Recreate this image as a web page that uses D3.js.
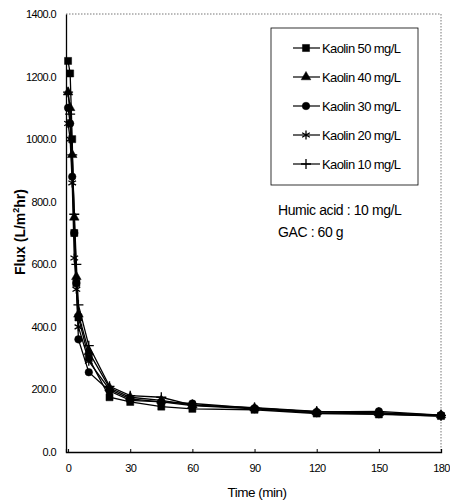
<!DOCTYPE html>
<html>
<head>
<meta charset="utf-8">
<script src="https://cdn.jsdelivr.net/npm/d3@7"></script>
<style>
  body { margin: 0; background: #fff; }
  text { font-family: "Liberation Sans", Arial, sans-serif; fill: #000; }
</style>
</head>
<body>
<div class="container"></div>
<script>
// data
var times = [0, 1, 2, 3, 4, 5, 10, 20, 30, 45, 60, 90, 120, 150, 180];
var seriesNames = ["Kaolin 50 mg/L", "Kaolin 40 mg/L", "Kaolin 30 mg/L", "Kaolin 20 mg/L", "Kaolin 10 mg/L"];
var kaolin50 = [1250, 1210, 1000, 700, 540, 430, 300, 175, 160, 145, 138, 135, 123, 120, 115];
var kaolin40 = [1150, 1100, 950, 750, 560, 440, 320, 205, 175, 165, 150, 140, 128, 125, 118];
var kaolin30 = [1100, 1050, 880, 700, 540, 360, 255, 195, 165, 160, 155, 140, 128, 130, 118];
var kaolin20 = [1050, 1000, 860, 620, 520, 400, 290, 200, 170, 160, 148, 138, 125, 122, 115];
var kaolin10 = [1150, 1080, 950, 760, 600, 470, 340, 210, 180, 175, 150, 142, 130, 125, 117];
var xTicks = [0, 30, 60, 90, 120, 150, 180];
var yTicks = [0, 200, 400, 600, 800, 1000, 1200, 1400];

var seriesValues = [kaolin50, kaolin40, kaolin30, kaolin20, kaolin10];
var symbols = [d3.symbolSquare, d3.symbolTriangle, d3.symbolCircle, d3.symbolAsterisk, d3.symbolCross];

// svg container
var svgWidth = 450, svgHeight = 502;
var margin = { top: 14, right: 9, bottom: 50, left: 66 };
var width = svgWidth - margin.left - margin.right;
var height = svgHeight - margin.top - margin.bottom;

var svg = d3.select(".container").append("svg")
  .attr("width", svgWidth)
  .attr("height", svgHeight);

var chartGroup = svg.append("g")
  .attr("transform", `translate(${margin.left}, ${margin.top})`);

// scales
var x = d3.scaleLinear().domain([-1, 180]).range([0, width]);
var y = d3.scaleLinear().domain([0, 1400]).range([height, 0]);

// top and right dotted frame
chartGroup.append("path")
  .attr("d", `M0,0H${width}V${height}`)
  .attr("fill", "none")
  .attr("stroke", "#777")
  .attr("stroke-width", 1)
  .attr("stroke-dasharray", "1.5,1.5");

// axes
var bottomAxis = d3.axisBottom(x).tickValues(xTicks).tickSize(-3).tickPadding(12).tickFormat(d3.format("d"));
var leftAxis = d3.axisLeft(y).tickValues(yTicks).tickSize(0).tickPadding(10).tickFormat(d3.format(".1f"));

var gx = chartGroup.append("g")
  .attr("transform", `translate(0, ${height})`)
  .call(bottomAxis);
var gy = chartGroup.append("g").call(leftAxis);

[gx, gy].forEach(function(g) {
  g.select(".domain").attr("stroke", "#000").attr("stroke-width", 1.3);
  g.selectAll(".tick line").attr("stroke", "#000");
  g.selectAll(".tick text")
    .attr("font-family", "Liberation Sans Narrow, Liberation Sans, sans-serif")
    .attr("font-size", 11)
    .attr("letter-spacing", -0.6);
});

// lines + markers
var line = d3.line()
  .x((d, i) => x(times[i]))
  .y(d => y(d));

seriesValues.forEach(function(vals, s) {
  chartGroup.append("path")
    .datum(vals)
    .attr("d", line)
    .attr("fill", "none")
    .attr("stroke", "#000")
    .attr("stroke-width", 1.3);

  chartGroup.selectAll(".m" + s)
    .data(vals)
    .enter()
    .append("path")
    .attr("class", "m" + s)
    .attr("transform", (d, i) => `translate(${x(times[i])}, ${y(d)})`)
    .attr("d", markerPath(s))
    .attr("fill", s < 3 ? "#000" : "none")
    .attr("stroke", "#000")
    .attr("stroke-width", s < 3 ? 0.5 : 1.3);
});

function markerPath(s) {
  var sizes = [50, 40, 45, 55, 70];
  if (s === 4) return "M-5,0H5M0,-5V5";
  return d3.symbol().type(symbols[s]).size(sizes[s])();
}

// legend
var legend = svg.append("g");
legend.append("rect")
  .attr("x", 271).attr("y", 28)
  .attr("width", 147).attr("height", 157)
  .attr("fill", "#fff")
  .attr("stroke", "#000")
  .attr("stroke-width", 0.8);

seriesNames.forEach(function(name, s) {
  var ly = 48 + s * 29;
  legend.append("line")
    .attr("x1", 293).attr("x2", 320)
    .attr("y1", ly).attr("y2", ly)
    .attr("stroke", "#000")
    .attr("stroke-width", 1.2);
  legend.append("path")
    .attr("transform", `translate(306, ${ly})`)
    .attr("d", markerPath(s))
    .attr("fill", s < 3 ? "#000" : "none")
    .attr("stroke", "#000")
    .attr("stroke-width", s < 3 ? 0.5 : 1.3);
  legend.append("text")
    .attr("x", 322).attr("y", ly + 4.5)
    .attr("font-size", 13)
    .attr("letter-spacing", -0.6)
    .text(name);
});

// annotation
svg.append("text")
  .attr("x", 278).attr("y", 215)
  .attr("font-size", 14)
  .attr("letter-spacing", -0.4)
  .text("Humic acid : 10 mg/L");
svg.append("text")
  .attr("x", 278).attr("y", 237)
  .attr("font-size", 14)
  .attr("letter-spacing", -0.4)
  .text("GAC : 60 g");

// axis labels
svg.append("text")
  .attr("transform", "translate(257, 497)")
  .attr("text-anchor", "middle")
  .attr("font-size", 13.5)
  .attr("letter-spacing", -0.5)
  .text("Time (min)");

var yLab = svg.append("text")
  .attr("transform", "translate(25, 232) rotate(-90)")
  .attr("text-anchor", "middle")
  .attr("font-size", 14)
  .attr("font-weight", "bold");
yLab.append("tspan").text("Flux (L/m");
yLab.append("tspan").attr("font-size", 9).attr("dy", -6).text("2");
yLab.append("tspan").attr("dy", 6).text("hr)");
</script>
</body>
</html>
